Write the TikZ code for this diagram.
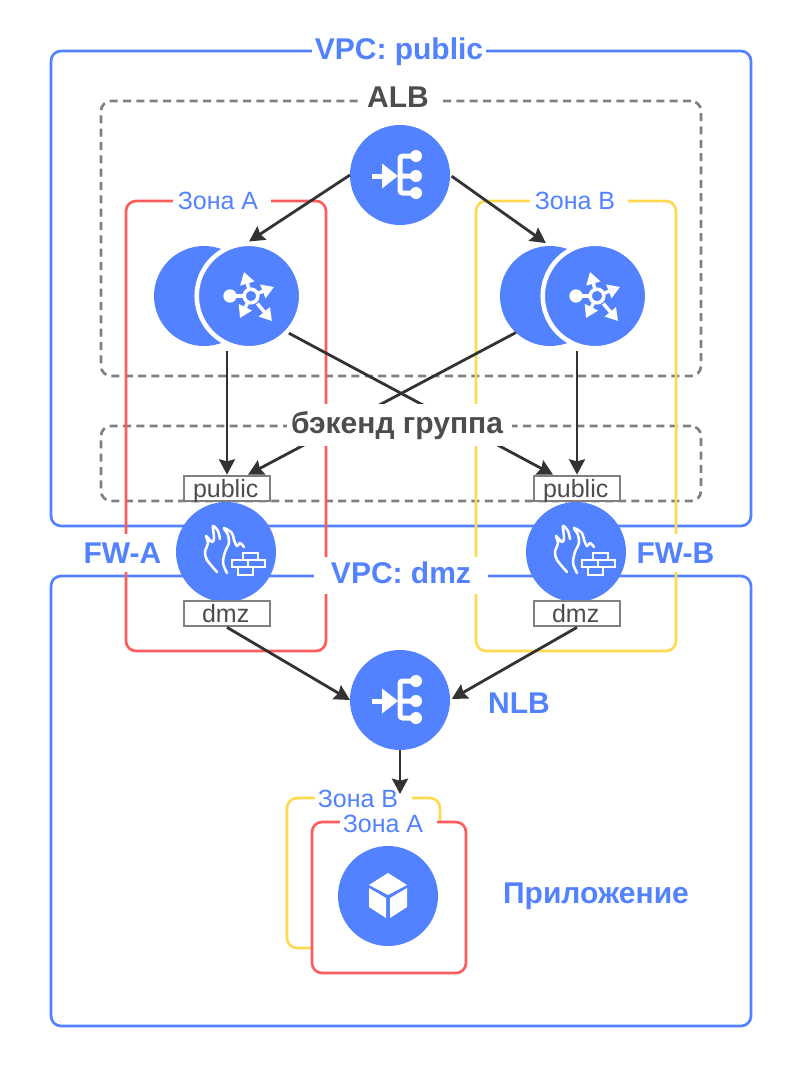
\documentclass[tikz,border=0pt]{standalone}
\usepackage{fontspec}
\setmainfont{Liberation Sans}
\usetikzlibrary{positioning,arrows.meta,calc}
\definecolor{netBlue}{RGB}{82,130,255}
\definecolor{netRed}{RGB}{255,92,92}
\definecolor{netYellow}{RGB}{255,217,82}
\definecolor{netGray}{RGB}{128,128,128}
\definecolor{netText}{RGB}{77,77,77}
\definecolor{netArrow}{RGB}{51,51,51}
\tikzset{
  lb icon/.pic={
    \draw[white, line width=3.75pt] (-28,1) -- (-17,1);
    \fill[white] (-18,-11.5) -- (-2,1) -- (-18,13.5) -- cycle;
    \draw[white, line width=3.75pt, rounded corners=2pt] (16,-19) -- (0,-19) -- (0,18) -- (16,18) (0,1) -- (16,1);
    \foreach \dy in {-19,1,18} \fill[white] (16,\dy) circle (4.5pt);
  },
  router icon/.pic={
    \draw[white, line width=2.6pt] (2,0) circle (6.8);
    \fill[white] (-19,0) circle (5pt);
    \draw[white, line width=2.6pt] (-19,0) -- (-5,0);
    \foreach \tx/\ty in {-5/-24,25/-9,-9/22,23/25} \draw[white, line width=2.6pt, -{Triangle[length=9pt,width=10.5pt]}] ($(2,0)!0.3!(\tx,\ty)$) -- (\tx,\ty);
  },
  fw icon/.pic={
    \draw[white, line width=1.9pt, line cap=round, line join=round] plot[smooth, tension=0.5] coordinates {(-9,20) (-19,8) (-21,0) (-18,-9) (-20,-16) (-14,-10) (-12,-14) (-13,-26) (-8,-21) (-6,-13)};
    \draw[white, line width=1.9pt, line cap=round, line join=round] plot[smooth, tension=0.5] coordinates {(1,21) (-3,11) (-1,0) (3,-9) (2,-17) (-2,-24) (6,-19) (8,-12) (11,-6) (14,-9) (18,-5)};
    \draw[white, line width=1.9pt] (17,1) rectangle (32,8) (6,8) rectangle (39,15) (22,8) -- (22,15) (12,15) rectangle (27,23);
  },
  cube icon/.pic={
    \fill[white] (0,-23) -- (19,-11) -- (0,-1) -- (-19,-11) -- cycle;
    \fill[white] (-19,-8) -- (-2,2) -- (-2,22) -- (-19,11) -- cycle;
    \fill[white] (19,-8) -- (2,2) -- (2,22) -- (19,11) -- cycle;
  }
}

\begin{document}
\begin{tikzpicture}[
    x=0.75pt, y=-0.75pt,
    font=\fontsize{18.75}{22}\selectfont,
    frame/.style={rectangle, rounded corners=7.5pt, line width=2pt},
    vpc/.style={frame, draw=netBlue},
    group/.style={frame, draw=netGray, dash pattern=on 6pt off 4pt},
    zone red/.style={frame, draw=netRed},
    zone yellow/.style={frame, draw=netYellow},
    disc/.style={circle, fill=netBlue, minimum size=75pt, inner sep=0pt, outer sep=0pt},
    front/.style={circle, fill=netBlue, draw=white, line width=3.4pt, minimum size=78.4pt, inner sep=0pt},
    port/.style={rectangle, draw=netGray, fill=white, line width=2pt, text=netText, minimum width=64.5pt, minimum height=18.75pt, inner sep=0pt, text height=13.5pt, text depth=0pt},
    flow/.style={draw=netArrow, line width=2.1pt, -{Stealth[length=11.5pt,width=12pt,inset=1.5pt]}},
    big label/.style={font=\fontsize{22.5}{26}\selectfont\bfseries, text=netBlue, fill=white, inner sep=0pt, minimum height=28.5pt, text height=16pt, text depth=4pt},
    gray label/.style={big label, text=netText},
    zone label/.style={text=netBlue, fill=white, inner sep=0pt, inner xsep=3.75pt, minimum height=22pt}
]
  % outer frames
  \node[vpc, minimum width=525pt, minimum height=356.25pt] (vpcPublic) at (401,288.5) {};
  \node[vpc, minimum width=525pt, minimum height=337.5pt] (vpcDmz) at (401,801) {};
  \node[group, minimum width=450pt, minimum height=206.25pt] (albGroup) at (401,238.5) {};
  \node[group, minimum width=450pt, minimum height=56.25pt] (backendGroup) at (401,463.5) {};
  \node[zone red, minimum width=150pt, minimum height=337.5pt] (zoneA) at (226,426) {};
  \node[zone yellow, minimum width=150pt, minimum height=337.5pt] (zoneB) at (576,426) {};
  \node[zone yellow, minimum width=114.75pt, minimum height=112.5pt] (appZoneB) at (363.5,873) {};
  \node[zone red, fill=white, minimum width=115.5pt, minimum height=113.25pt] (appZoneA) at (389,897.5) {};

  % load balancers and ingress
  \node[disc] (alb) at (400,175) {};
  \node[disc] (nlb) at (400,700) {};
  \node[disc] (app) at (388,896) {};
  \node[disc] (igAback) at (204,296) {};
  \node[front] (igA) at (249,296) {};
  \node[disc] (igBback) at (550,296) {};
  \node[front] (igB) at (595,296) {};

  % firewalls
  \node[port] (publicA) at (227,488.5) {public\kern 2pt};
  \node[port] (publicB) at (577,488.5) {public\kern 2pt};
  \node[disc] (fwA) at (226,552) {};
  \node[disc] (fwB) at (576,552) {};
  \node[port] (dmzA) at (227,613.5) {dmz\kern 2pt};
  \node[port] (dmzB) at (577,613.5) {dmz\kern 2pt};

  \pic at (alb) {lb icon};
  \pic at (nlb) {lb icon};
  \pic at (igA) {router icon};
  \pic at (igB) {router icon};
  \pic at (fwA) {fw icon};
  \pic at (fwB) {fw icon};
  \pic at (app) {cube icon};

  \coordinate (appIn) at (400,794);

  \draw[flow] (alb.west) -- (igA.north);
  \draw[flow, shorten <=1.5pt, shorten >=3.75pt] (alb.east) -- (igBback.north);
  \draw[flow] (igA.south -| publicA.north) -- (publicA.north);
  \draw[flow] (igB.south -| publicB.north) -- (publicB.north);
  \draw[flow] (igA.-43) -- ($(publicB.north)+(-24,0)$);
  \draw[flow] (igBback.227) -- ($(publicA.north)+(21,0)$);
  \draw[flow] (dmzA.south) -- (nlb.west);
  \draw[flow, shorten >=1.5pt] (dmzB.south) -- (nlb.east);

  % labels
  \node[big label, minimum width=130.5pt] (vpcPublicLabel) at (399,51) {VPC: public};
  \node[big label, minimum width=130.5pt, minimum height=28pt] (vpcDmzLabel) at (401,575.5) {VPC: dmz};
  \node[gray label, minimum width=63.75pt] (albLabel) at (400.5,99.5) {ALB\kern 3.75pt};
  \node[gray label, minimum width=168.75pt, minimum height=31.5pt] (backendLabel) at (399.5,425) {бэкенд группа\kern 3.75pt};
  \node[big label, text depth=0pt] (fwALabel) at (122.5,552.5) {FW-A};
  \node[big label, text depth=0pt] (fwBLabel) at (675.5,552.5) {FW-B};
  \node[big label, fill=none] (nlbLabel) at (519,705.5) {NLB};
  \node[big label, fill=none] (appLabel) at (596,895.5) {Приложение};
  \node[zone label] (zoneALabel) at (222,201) {Зона A\kern 6pt};
  \node[zone label] (zoneBLabel) at (579,201) {Зона B\kern 6pt};
  \node[zone label, inner xsep=2.25pt] (appZoneBLabel) at (363.5,798.5) {Зона B\kern 8.25pt};
  \node[zone label, inner xsep=2.25pt] (appZoneALabel) at (388.5,823.5) {Зона A\kern 8.25pt};

  \draw[flow] (nlb.south) -- (appIn);
  \useasboundingbox (0,0) rectangle (803,1078);
\end{tikzpicture}
\end{document}
